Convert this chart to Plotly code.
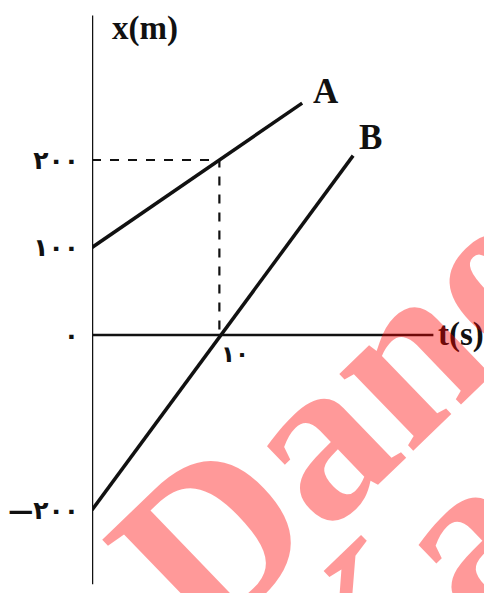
import plotly.graph_objects as go

# x-t graph for two movers A and B
t_a = [0, 16.5]
x_a = [100, 265]
t_b = [0, 20.5]
x_b = [-200, 205]

y_ticks = [200, 100, 0, -200]
y_tick_text = ["<b>۲۰۰</b>", "<b>۱۰۰</b>", "<b>۰</b>", "<b>—۲۰۰</b>"]
t_mark = 10
x_mark = 200

black = "#111111"
fig = go.Figure()

fig.add_trace(go.Scatter(x=t_a, y=x_a, mode="lines",
                         line=dict(color=black, width=3.5), showlegend=False))
fig.add_trace(go.Scatter(x=t_b, y=x_b, mode="lines",
                         line=dict(color=black, width=3.5), showlegend=False))
# dashed guides
fig.add_trace(go.Scatter(x=[0, t_mark, t_mark], y=[x_mark, x_mark, 0], mode="lines",
                         line=dict(color=black, width=2.2, dash="dash"), showlegend=False))

# axes drawn by hand
fig.add_shape(type="line", x0=0, x1=0, y0=-285, y1=365, line=dict(color=black, width=2.5))
fig.add_shape(type="line", x0=0, x1=26.8, y0=0, y1=0, line=dict(color=black, width=2.5))

lbl = dict(family="Liberation Serif", size=33, color=black)
fig.add_annotation(x=1.4, y=350, text="<b>x(m)</b>", showarrow=False, xanchor="left", font=lbl)
fig.add_annotation(x=27.0, y=0, text="<b>t(s)</b>", showarrow=False, xanchor="left", font=lbl)
fig.add_annotation(x=17.2, y=278, text="<b>A</b>", showarrow=False, xanchor="left",
                   font=dict(family="Liberation Serif", size=35, color=black))
fig.add_annotation(x=20.8, y=226, text="<b>B</b>", showarrow=False, xanchor="left",
                   font=dict(family="Liberation Serif", size=35, color=black))
fig.add_annotation(x=t_mark, y=0, text="<b>۱۰</b>", showarrow=False, yanchor="top",
                   xanchor="left", yshift=-4, font=dict(family="DejaVu Sans", size=23, color=black))

# watermark
wm = dict(family="Liberation Serif", size=232, color="rgba(255,0,0,0.4)")
fig.add_annotation(x=25.3, y=-6, text="<b>Danesh</b>", showarrow=False, textangle=-44, font=wm)
fig.add_annotation(x=27.0, y=-262, text="<b>Kar</b>", showarrow=False, textangle=-44, font=wm)

# page has an 8px body margin, ranges below account for that
fig.update_xaxes(range=[0, 32.03], visible=False, fixedrange=True)
fig.update_yaxes(range=[-304, 373.7], showgrid=False, zeroline=False, showline=False,
                 tickvals=y_ticks, ticktext=y_tick_text, ticks="", ticklabelstandoff=12,
                 tickfont=dict(family="DejaVu Sans", size=25, color=black))

fig.update_layout(width=492, height=593, margin=dict(l=82, r=0, t=0, b=0),
                  plot_bgcolor="white", paper_bgcolor="white")

fig.write_html("out.html")
